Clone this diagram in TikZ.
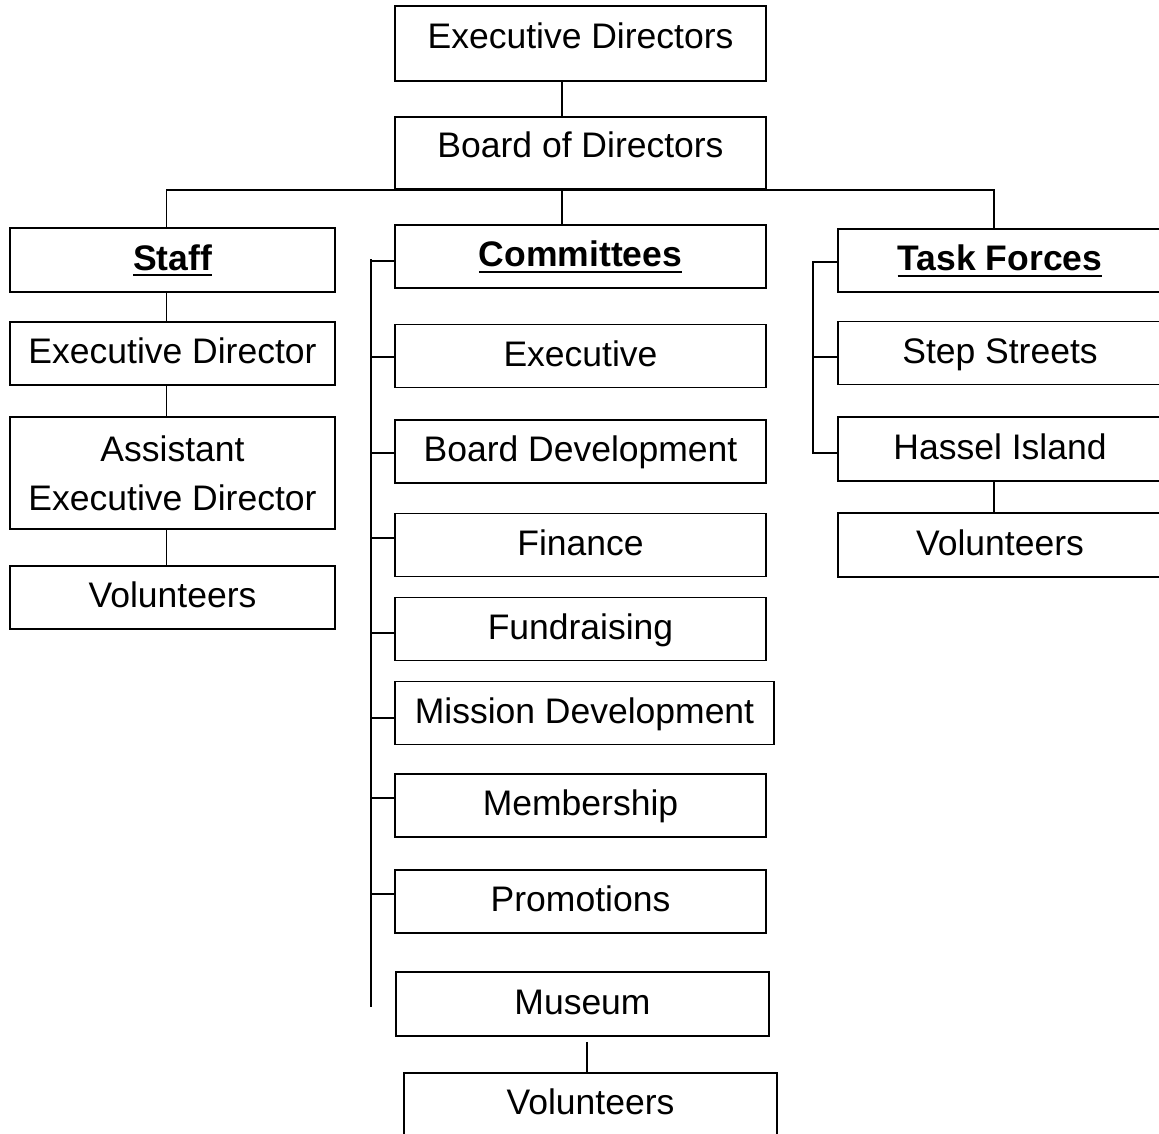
\documentclass[tikz,border=0pt]{standalone}
\usepackage{fontspec}
\setmainfont{Liberation Sans}
\newcommand\myul[1]{\setbox0=\hbox{#1}\rlap{\rule[-6pt]{\wd0}{1.6pt}}\box0}
\tikzset{
  box/.style={draw, line width=1.7pt, rectangle, inner sep=0pt, minimum height=63pt,
    font=\fontsize{35.5}{49}\selectfont},
  tb/.style={text height=25pt, text depth=5pt},
  tbtop/.style={text height=25pt, text depth=16pt},
  conn/.style={line width=1.7pt},
}
\begin{document}
\begin{tikzpicture}[x=1pt,y=-1pt]
\clip (0,0) rectangle (1159,1133);
\fill[white] (0,0) rectangle (1159,1133);
% top
\node[box,tbtop,minimum width=371pt,minimum height=75pt] (ed) at (580.5,43.5) {Executive Directors};
\node[box,tbtop,minimum width=371pt,minimum height=72pt] (bod) at (580.5,153) {Board of Directors};
% staff column
\node[box,tb,minimum width=325pt,minimum height=64pt] (staff) at (172.5,260) {\myul{\bfseries Staff}};
\node[box,tb,minimum width=325pt] (exd) at (172.5,353.5) {Executive Director};
\node[box,align=center,minimum width=325pt,minimum height=112pt] (aed) at (172.5,473) {Assistant\\Executive Director};
\node[box,tb,minimum width=325pt] (svol) at (172.5,597.5) {Volunteers};
% committees column
\node[box,tb,minimum width=371pt] (com) at (580.5,256.5) {\myul{\bfseries Committees}};
\node[box,tb,minimum width=371pt] (cexec) at (580.5,356) {Executive};
\node[box,tb,minimum width=371pt] (cbd) at (580.5,451.5) {Board Development};
\node[box,tb,minimum width=371pt] (cfin) at (580.5,545) {Finance};
\node[box,tb,minimum width=371pt] (cfund) at (580.5,629) {Fundraising};
\node[box,tb,minimum width=379pt] (cmis) at (584.5,713) {Mission Development};
\node[box,tb,minimum width=371pt] (cmem) at (580.5,805.5) {Membership};
\node[box,tb,minimum width=371pt] (cpro) at (580.5,901.5) {Promotions};
\node[box,tb,minimum width=373pt,minimum height=64pt] (mus) at (582.5,1004) {Museum};
\node[box,tb,minimum width=373pt] (mvol) at (590.5,1104.5) {Volunteers};
% task forces column
\node[box,tb,minimum width=324pt] (tf) at (1000,260.5) {\myul{\bfseries Task Forces}};
\node[box,tb,minimum width=324pt] (ss) at (1000,353) {Step Streets};
\node[box,tb,minimum width=324pt,minimum height=64pt] (hi) at (1000,449) {Hassel Island};
\node[box,tb,minimum width=324pt,minimum height=64pt] (tvol) at (1000,545) {Volunteers};
% connectors top
\draw[conn] ([xshift=-18.5pt]ed.south) -- ([xshift=-18.5pt]bod.north);
\draw[conn] ([xshift=-6pt]staff.north) |- (bod.south);
\draw[conn] ([xshift=-6pt]tf.north) |- (bod.south);
\draw[conn] ([xshift=-18.5pt]bod.south) -- ([xshift=-18.5pt]com.north);
% staff column
\draw[conn] ([xshift=-6pt]staff.south) -- ([xshift=-6pt]exd.north);
\draw[conn] ([xshift=-6pt]exd.south) -- ([xshift=-6pt]aed.north);
\draw[conn] ([xshift=-6pt]aed.south) -- ([xshift=-6pt]svol.north);
% committees rail
\coordinate (crt) at (371,259);
\coordinate (crb) at (371,1007);
\draw[conn] (crt) -- (crb);
\draw[conn] ([yshift=-4.5pt]com.west) -- ++(-24,0);
\draw[conn] ([yshift=-1pt]cexec.west) -- ++(-24,0);
\draw[conn] ([yshift=-1.5pt]cbd.west) -- ++(-24,0);
\draw[conn] ([yshift=7pt]cfin.west) -- ++(-24,0);
\draw[conn] ([yshift=-4pt]cfund.west) -- ++(-24,0);
\draw[conn] ([yshift=-5pt]cmis.west) -- ++(-24,0);
\draw[conn] ([yshift=7.5pt]cmem.west) -- ++(-24,0);
\draw[conn] ([yshift=7.5pt]cpro.west) -- ++(-24,0);
\draw[conn] ([xshift=4.5pt,yshift=-5pt]mus.south) -- ([xshift=-3.5pt]mvol.north);
% task forces bracket
\draw[conn] ([yshift=-1.5pt]tf.west) -- ++(-24,0) |- ([yshift=-4pt]hi.west);
\draw[conn] ([yshift=-4pt]ss.west) -- ++(-24,0);
\draw[conn] ([xshift=-6pt]hi.south) -- ([xshift=-6pt]tvol.north);
\end{tikzpicture}
\end{document}
